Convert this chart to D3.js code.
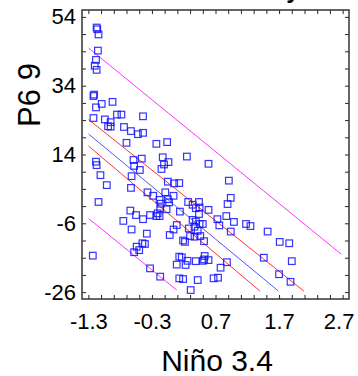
<!DOCTYPE html>
<html>
<head>
<meta charset="utf-8">
<script src="https://cdn.jsdelivr.net/npm/d3@7"></script>
<style>
  html, body { margin: 0; padding: 0; background: #fff; }
  svg { display: block; font-family: "Liberation Sans", Arial, sans-serif; }
</style>
</head>
<body>
<svg id="chart" width="358" height="376"></svg>
<script>
// Niño 3.4 index (x) against P6 9 (y)
const ninoValues = [
  -1.17, -1.16, -1.14, -1.15, -1.18, -1.20, -1.17, -1.21, -1.22, -1.18,
  -1.09, -0.92, -1.22, -1.04, -0.95, -0.99, -0.95, -0.85, -0.78, -0.74,
  -0.63, -0.52, -0.44, -0.44, -0.70, -0.23, -0.06, -1.18, -1.17, -1.11,
  -1.01, -1.14, -1.23, -0.59, -0.46, -0.58, -0.49, -0.62, -0.63, -0.13,
  -0.04, -0.11, -0.15, -0.05, 0.05, 0.13, -0.37, -0.28, -0.09, 0.04,
  -0.18, -0.16, -0.05, -0.03, -0.17, -0.07, -0.21, -0.23, -0.18, -0.33,
  -0.44, -0.64, -0.55, -0.75, -0.62, -0.38, 0.09, 0.04, -0.02, -0.45,
  -0.41, -0.54, -0.58, -0.50, -0.33, -0.17, 0.13, 0.09, 0.13, 0.25,
  0.59, 0.91, 0.94, 0.89, 0.27, 0.44, 0.34, 0.39, 0.45, 0.59,
  0.14, 0.44, 0.87, 0.73, 0.76, 0.99, 1.18, 1.25, 0.94, 1.52,
  0.34, 0.39, 0.45, 0.50, 0.37, 0.28, 0.42, 0.30, 0.37, 0.46,
  0.52, 0.19, 0.22, 1.71, 1.86, 1.46, 1.90, 1.70, 1.88, 0.88,
  0.78, 0.53, 0.52, 0.50, 0.59, 0.39, 0.26, 0.17, 0.23, 0.19,
  0.42, 0.67, 0.74, 0.31
];
const p69Values = [
  50.9, 50.4, 48.9, 44.2, 41.5, 39.8, 38.6, 31.4, 31.0, 27.7,
  28.7, 29.3, 24.6, 24.2, 23.4, 22.2, 22.1, 25.6, 25.6, 22.0,
  20.8, 19.9, 20.3, 25.1, 17.4, 17.1, 17.6, 11.9, 10.9, 8.0,
  5.1, 0.2, -15.4, 12.4, 12.8, 10.7, 9.5, 7.7, 4.3, 13.2,
  11.8, 11.1, 9.8, 6.1, 5.6, 5.7, 3.0, 2.0, 3.0, 2.0,
  0.8, -0.3, 1.0, 0.1, -1.6, -1.9, -3.1, -3.9, -3.9, -3.6,
  -4.8, -2.3, -3.6, -5.3, -7.8, -9.0, -6.5, -7.8, -9.4, -11.8,
  -12.0, -12.8, -14.4, -13.8, -19.1, -21.5, -15.7, -18.0, -22.0, 13.4,
  11.3, 6.4, 1.4, -0.4, 0.2, 0.2, -0.6, -1.6, -1.4, -2.1,
  -2.6, -3.3, -3.9, -4.8, -6.6, -5.6, -6.2, -6.8, -8.4, -8.4,
  -5.0, -5.5, -6.2, -6.2, -7.0, -7.5, -8.2, -9.7, -9.9, -9.7,
  -11.2, -11.0, -11.4, -11.4, -11.8, -16.0, -17.0, -20.8, -23.0, -17.3,
  -18.9, -15.5, -16.5, -16.9, -16.7, -17.0, -16.9, -15.9, -18.1, -22.2,
  -22.5, -22.0, -21.8, -25.4
];

// Fitted line, confidence band and prediction band (x, y pairs)
const fitLine = [[-1.3, 20.0], [1.69, -25.7]];
const confUpper = [[-1.3, 24.2], [2.09, -25.7]];
const confLower = [[-1.3, 16.5], [1.40, -25.7]];
const predUpper = [[-1.3, 45.0], [2.68, -15.0]];
const predLower = [[-1.3, -4.55], [0.09, -25.4]];

const xTickLabels = [-1.3, -0.3, 0.7, 1.7, 2.7];
const yTickLabels = [54, 34, 14, -6, -26];
const xMinorTicks = d3.range(-1.3, 2.71, 0.2).map(v => +v.toFixed(1));
const yMinorTicks = d3.range(-26, 55, 5);

const xTitle = "Niño 3.4";
const yTitle = "P6 9";

const svg = d3.select("#chart");
const plotLeft = 82, plotRight = 349, plotTop = 10, plotBottom = 299;

const x = d3.scaleLinear().domain([-1.4, 2.8]).range([plotLeft, plotRight]);
const y = d3.scaleLinear().domain([-28, 56]).range([plotBottom, plotTop]);

// clip region for fitted lines
svg.append("defs").append("clipPath").attr("id", "lineClip")
  .append("rect")
  .attr("x", x(-1.3)).attr("y", y(54))
  .attr("width", x(2.7) - x(-1.3)).attr("height", y(-26) - y(54));

// cut-off heading above the frame
svg.append("text")
  .attr("x", 293).attr("y", -2)
  .attr("text-anchor", "middle")
  .attr("font-size", 24).attr("font-weight", "bold")
  .text("y");

const lineGen = d3.line().x(d => x(d[0])).y(d => y(d[1]));
const lines = svg.append("g").attr("clip-path", "url(#lineClip)").attr("fill", "none");
[[predUpper, "#ff33ff"], [predLower, "#ff33ff"],
 [confUpper, "#ff3333"], [confLower, "#ff3333"],
 [fitLine, "#5555ff"]].forEach(([pts, col]) => {
  lines.append("path").attr("d", lineGen(pts))
    .attr("stroke", col).attr("stroke-width", 1);
});

// scatter markers
const pts = ninoValues.map((v, i) => [v, p69Values[i]]);
svg.append("g").selectAll("rect").data(pts).join("rect")
  .attr("x", d => x(d[0]) - 3.3)
  .attr("y", d => y(d[1]) - 3.3)
  .attr("width", 6.6).attr("height", 6.6)
  .attr("fill", "none")
  .attr("stroke", "#1010ff")
  .attr("stroke-opacity", 0.85)
  .attr("stroke-width", 1.2);

// inward minor ticks on all four sides
const tickStyle = g => {
  g.select(".domain").remove();
  g.selectAll(".tick line").attr("stroke", "#222").attr("stroke-width", 1);
};
svg.append("g").attr("transform", `translate(0,${plotBottom})`)
  .call(d3.axisBottom(x).tickValues(xMinorTicks).tickSize(-4).tickFormat(""))
  .call(tickStyle);
svg.append("g").attr("transform", `translate(0,${plotTop})`)
  .call(d3.axisTop(x).tickValues(xMinorTicks).tickSize(-4).tickFormat(""))
  .call(tickStyle);
svg.append("g").attr("transform", `translate(${plotLeft},0)`)
  .call(d3.axisLeft(y).tickValues(yMinorTicks).tickSize(-4).tickFormat(""))
  .call(tickStyle);
svg.append("g").attr("transform", `translate(${plotRight},0)`)
  .call(d3.axisRight(y).tickValues(yMinorTicks).tickSize(-4).tickFormat(""))
  .call(tickStyle);

// frame
svg.append("rect")
  .attr("x", plotLeft).attr("y", plotTop)
  .attr("width", plotRight - plotLeft).attr("height", plotBottom - plotTop)
  .attr("fill", "none").attr("stroke", "#333").attr("stroke-width", 1.5);

// tick labels (plain hyphen for negative values)
const xLab = svg.append("g").attr("transform", `translate(0,${plotBottom})`)
  .call(d3.axisBottom(x).tickValues(xTickLabels).tickSize(0).tickPadding(14)
    .tickFormat(d => d.toFixed(1)));
xLab.select(".domain").remove();
xLab.selectAll("text").attr("font-size", 22).attr("fill", "#000")
  .attr("font-family", "Liberation Sans, Arial, sans-serif")
  .attr("dx", d => d === 2.7 ? -4 : 0);

const yLab = svg.append("g").attr("transform", `translate(${plotLeft},0)`)
  .call(d3.axisLeft(y).tickValues(yTickLabels).tickSize(0).tickPadding(6)
    .tickFormat(d => String(d)));
yLab.select(".domain").remove();
yLab.selectAll("text").attr("font-size", 22).attr("fill", "#000")
  .attr("font-family", "Liberation Sans, Arial, sans-serif");

// axis titles
svg.append("text")
  .attr("x", 217).attr("y", 371)
  .attr("text-anchor", "middle")
  .attr("font-size", 30)
  .text(xTitle);

svg.append("text")
  .attr("transform", "translate(40,95) rotate(-90)")
  .attr("text-anchor", "middle")
  .attr("font-size", 31)
  .text(yTitle);
</script>
</body>
</html>
